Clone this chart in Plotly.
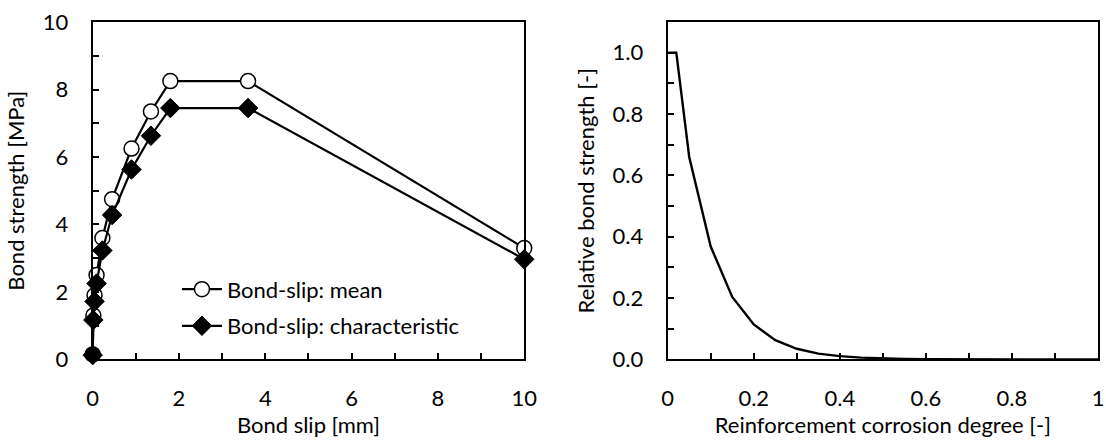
import plotly.graph_objects as go

# Bond-slip data
slip = [0.0, 0.016, 0.043, 0.09, 0.225, 0.45, 0.9, 1.35, 1.8, 3.6, 10.0]
tau_mean = [0.15, 1.3, 1.9, 2.5, 3.6, 4.75, 6.25, 7.35, 8.25, 8.25, 3.3]
tau_char = [0.13, 1.17, 1.72, 2.25, 3.23, 4.28, 5.63, 6.63, 7.45, 7.45, 2.97]

# Relative bond strength vs corrosion
corr = [0.0, 0.02, 0.05, 0.10, 0.15, 0.20, 0.25, 0.30, 0.35, 0.40, 0.45, 0.50,
        0.55, 0.60, 0.65, 0.70, 0.75, 0.80, 0.85, 0.90, 0.95, 1.00]
rel = [1.0, 1.0, 0.66, 0.368, 0.204, 0.114, 0.063, 0.035, 0.019, 0.011, 0.006,
       0.0035, 0.002, 0.0011, 0.0006, 0.0003, 0.0002, 0.0001, 0.0001, 0.0, 0.0, 0.0]

FONT = "Lato"
fs = 22

fig = go.Figure()
fig.add_trace(go.Scatter(x=slip, y=tau_mean, mode="lines+markers", name="Bond-slip: mean",
                         legendgroup="m",
                         line=dict(color="black", width=2.2), cliponaxis=False,
                         marker=dict(symbol="circle", size=15, color="white",
                                     line=dict(color="black", width=1.5)),
                         xaxis="x", yaxis="y"))
fig.add_trace(go.Scatter(x=slip, y=tau_char, mode="lines+markers", name="Bond-slip: characteristic",
                         legendgroup="c",
                         line=dict(color="black", width=2.2), cliponaxis=False,
                         marker=dict(symbol="diamond", size=15, color="black",
                                     line=dict(color="black", width=1)),
                         xaxis="x", yaxis="y"))
fig.add_trace(go.Scatter(x=corr, y=rel, mode="lines", showlegend=False,
                         line=dict(color="black", width=2.4),
                         xaxis="x2", yaxis="y2"))

minor_common = dict(ticks="inside", ticklen=6, tickcolor="black", tickwidth=1.5)
axcommon = dict(showline=True, linecolor="black", linewidth=2, mirror=True,
                ticks="inside", ticklen=6, tickwidth=1.5, tickcolor="black",
                showgrid=False, zeroline=False, automargin=False,
                ticklabelstandoff=18,
                tickfont=dict(family=FONT, size=fs, color="black"))
tfont = dict(family=FONT, size=fs, color="black")

fig.update_layout(
    width=1106, height=440,
    margin=dict(l=0, r=0, t=0, b=0),
    paper_bgcolor="white", plot_bgcolor="white",
    font=dict(family=FONT, size=fs, color="black"),
    xaxis=dict(domain=[0.0838, 0.474], range=[0, 10], dtick=2, anchor="y",
               minor=dict(dtick=1, **minor_common),
               title=dict(text="Bond slip [mm]", standoff=3, font=tfont), **axcommon),
    yaxis=dict(domain=[0.183, 0.95], range=[0, 10], dtick=2, anchor="x",
               minor=dict(dtick=1, **minor_common),
               title=dict(text="Bond strength [MPa]", standoff=12, font=tfont), **axcommon),
    xaxis2=dict(domain=[0.6037, 0.9928], range=[0, 1], anchor="y2",
                tickvals=[0, 0.2, 0.4, 0.6, 0.8, 1.0], ticktext=["0", "0.2", "0.4", "0.6", "0.8", "1"],
                minor=dict(dtick=0.1, **minor_common),
                title=dict(text="Reinforcement corrosion degree [-]", standoff=3, font=tfont),
                **axcommon),
    yaxis2=dict(domain=[0.183, 0.95], range=[0, 1.1], dtick=0.2, anchor="x2", tickformat=".1f",
                minor=dict(dtick=0.1, **minor_common),
                title=dict(text="Relative bond strength [-]", standoff=12, font=tfont), **axcommon),
    legend=dict(x=0.160, y=0.39, xanchor="left", yanchor="top", bgcolor="rgba(0,0,0,0)",
                font=tfont, tracegroupgap=5, itemwidth=40),
)

fig.write_html("out.html", config={"displayModeBar": False},
               post_script="document.body.style.margin='0';")
